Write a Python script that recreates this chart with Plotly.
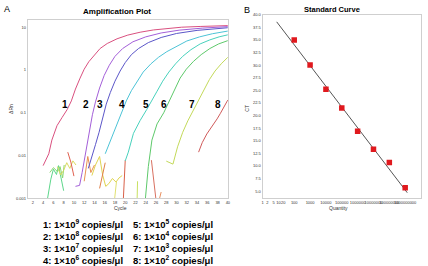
import math
import plotly.graph_objects as go

# ---------------- Panel A data: amplification curves ----------------
c1_x = [4.0, 5.1, 5.7, 6.7, 7.7, 8.7, 9.5, 10.3, 11.2, 12.0, 12.9, 14.0, 15.1, 16.5, 18.4, 20.5, 22.9, 25.5, 28.1, 31, 34.6, 37, 40]
c1_y = [0.0058, 0.011, 0.023, 0.05, 0.078, 0.12, 0.19, 0.36, 0.65, 1.05, 1.57, 2.3, 3.2, 4.2, 5.4, 6.6, 7.7, 8.7, 9.5, 10.1, 10.5, 10.8, 11.0]
c2_x = [10.3, 11.1, 11.6, 12.1, 12.6, 13.1, 13.6, 14.2, 15.0, 15.9, 16.9, 18.0, 19.5, 21.5, 24, 27, 30.5, 35, 40]
c2_y = [0.0019, 0.002, 0.004, 0.009, 0.02, 0.045, 0.09, 0.18, 0.38, 0.75, 1.3, 2.1, 3.2, 4.6, 6.0, 7.4, 8.6, 9.6, 10.4]
c3_x = [12.8, 13.5, 14.2, 14.9, 15.6, 16.3, 17.1, 18.0, 19.0, 20.0, 21.2, 22.6, 24.5, 27, 30, 34, 40]
c3_y = [0.005, 0.009, 0.018, 0.035, 0.07, 0.16, 0.3, 0.55, 0.95, 1.5, 2.3, 3.2, 4.4, 5.8, 7.2, 8.5, 9.8]
c4_x = [16.1, 17.4, 18.4, 19.4, 20.2, 21.2, 22.3, 23.5, 25, 26.5, 28.1, 30, 32, 34.5, 37, 40]
c4_y = [0.011, 0.027, 0.055, 0.11, 0.19, 0.33, 0.55, 0.9, 1.4, 2.0, 2.7, 3.6, 4.8, 6.0, 7.1, 8.2]
c5_x = [20.0, 20.6, 21.6, 22.9, 24.2, 25.2, 26.2, 27.3, 28.5, 29.8, 31.2, 32.8, 34.6, 36.5, 38.3, 40]
c5_y = [0.0075, 0.012, 0.033, 0.066, 0.12, 0.19, 0.32, 0.55, 0.9, 1.4, 2.1, 3.0, 4.1, 5.1, 6.0, 6.7]
c6_x = [23.9, 24.5, 25.2, 26.2, 27.5, 28.6, 29.6, 30.7, 31.9, 33.3, 34.8, 36.5, 38.2, 40]
c6_y = [0.0009, 0.0055, 0.023, 0.055, 0.1, 0.19, 0.36, 0.65, 1.05, 1.6, 2.3, 3.2, 4.1, 4.9]
c7_x = [28.0, 29.3, 30.2, 31.2, 32.2, 33.0, 34.2, 35.3, 36.4, 37.5, 38.7, 40]
c7_y = [0.0074, 0.0063, 0.016, 0.035, 0.065, 0.1, 0.19, 0.35, 0.6, 0.95, 1.4, 2.0]
c8_x = [34.3, 35.0, 35.9, 36.6, 37.2, 37.9, 38.5, 39.3, 40]
c8_y = [0.012, 0.02, 0.032, 0.042, 0.055, 0.072, 0.095, 0.14, 0.2]

curve_x = [c1_x, c2_x, c3_x, c4_x, c5_x, c6_x, c7_x, c8_x]
curve_y = [c1_y, c2_y, c3_y, c4_y, c5_y, c6_y, c7_y, c8_y]
curve_colors = ["#d9507f", "#a35fd8", "#5b56c8", "#4cc3d6", "#48d1bc", "#5ec96b", "#c3d95a", "#cf5a5a"]

# baseline noise segments
n_x = [
    [4.8, 5.5, 6.0, 6.6, 7.0, 7.5, 8.0],
    [5.3, 6.0, 6.8, 7.3, 7.8, 8.1],
    [6.8, 7.4, 8.0, 8.6, 9.2, 9.8, 10.4],
    [8.8, 9.4, 10.0],
    [12.0, 12.7, 13.3, 14.0],
    [13.5, 14.2, 15.0, 15.6, 16.2, 16.8, 17.5, 18.2, 18.8, 19.4],
    [15.0, 15.5, 16.1],
    [17.9, 18.3],
    [19.6, 19.8, 20.0],
    [22.3, 22.4],
    [25.1, 25.5, 26.0],
    [26.6, 27.0],
]
n_y = [
    [0.0009, 0.0028, 0.0048, 0.0036, 0.0058, 0.0028, 0.0015],
    [0.004, 0.0052, 0.0042, 0.0055, 0.003, 0.006],
    [0.0055, 0.0035, 0.0045, 0.0068, 0.005, 0.0075, 0.006],
    [0.012, 0.007, 0.0033],
    [0.0025, 0.0095, 0.004, 0.006],
    [0.0034, 0.006, 0.0095, 0.0035, 0.0019, 0.0022, 0.0029, 0.0024, 0.003, 0.0034],
    [0.0017, 0.003, 0.0068],
    [0.0009, 0.0025],
    [0.0008, 0.004, 0.0078],
    [0.0008, 0.0025],
    [0.0078, 0.003, 0.0009],
    [0.0009, 0.0014],
]
n_colors = ["#5cd68a", "#8ad870", "#dada60", "#e06050", "#e89050", "#e0d450",
            "#e08048", "#e0e070", "#d86048", "#c8e060", "#d87060", "#e89060"]

curve_labels = ["1", "2", "3", "4", "5", "6", "7", "8"]
label_cycle = [8.3, 12.4, 15.1, 19.4, 24.1, 27.6, 33.0, 38.1]
label_value = [0.16] * 8

a_xticks = list(range(2, 41, 2))
a_yticks = [0.001, 0.01, 0.1, 1, 10]
a_yticktext = ["0.001", "0.01", "0.1", "1", "10"]

# ---------------- Panel B data: standard curve ----------------
quantity = [1e2, 1e3, 1e4, 1e5, 1e6, 1e7, 1e8, 1e9]
ct = [35.0, 30.05, 25.2, 21.5, 16.9, 13.3, 10.7, 5.7]
fit_q = [7.8, 1.35e9]
fit_ct = [38.6, 4.7]
b_xticks = [1, 2, 5, 10, 20, 100, 1000, 10000, 100000, 1000000, 10000000, 100000000, 1000000000, 10000000000]
b_xticktext = ["1", "2", "5", "10", "20", "100", "1000", "10000", "100000", "1000000", "10000000",
               "100000000", "1000000000", "10000000000"]
b_yticks = [5.0, 7.5, 10.0, 12.5, 15.0, 17.5, 20.0, 22.5, 25.0, 27.5, 30.0, 32.5, 35.0, 37.5, 40.0]

legend_left = ["1: 1×10<sup>9</sup> copies/μl", "2: 1×10<sup>8</sup> copies/μl",
               "3: 1×10<sup>7</sup> copies/μl", "4: 1×10<sup>6</sup> copies/μl"]
legend_right = ["5: 1×10<sup>5</sup> copies/μl", "6: 1×10<sup>4</sup> copies/μl",
                "7: 1×10<sup>3</sup> copies/μl", "8: 1×10<sup>2</sup> copies/μl"]

W, H = 428, 266
FONT = "Liberation Sans, Arial, sans-serif"

fig = go.Figure()

for xs, ys, col in zip(n_x, n_y, n_colors):
    fig.add_trace(go.Scatter(x=xs, y=ys, mode="lines", line=dict(color=col, width=1),
                             xaxis="x", yaxis="y", showlegend=False, hoverinfo="skip"))
for xs, ys, col in zip(curve_x, curve_y, curve_colors):
    fig.add_trace(go.Scatter(x=xs, y=ys, mode="lines", line=dict(color=col, width=1),
                             xaxis="x", yaxis="y", showlegend=False))

fig.add_trace(go.Scatter(x=fit_q, y=fit_ct, mode="lines", line=dict(color="#555555", width=1),
                         xaxis="x2", yaxis="y2", showlegend=False))
fig.add_trace(go.Scatter(x=quantity, y=ct, mode="markers",
                         marker=dict(symbol="square", size=5.5, color="#e0191e"),
                         xaxis="x2", yaxis="y2", showlegend=False))


def px_x(p):
    return p / W


def px_y(p):
    return 1 - p / H


axis_common = dict(showgrid=False, zeroline=False, showline=True, linecolor="#cfcfcf",
                   linewidth=1, mirror=True, ticks="", tickangle=0,
                   tickfont=dict(size=4, color="#333333", family=FONT))

fig.update_layout(
    width=W, height=H, margin=dict(l=0, r=0, t=0, b=0),
    paper_bgcolor="white", plot_bgcolor="white",
    font=dict(family=FONT, color="black"),
    xaxis=dict(domain=[px_x(27), px_x(229)], range=[1, 40], tickvals=a_xticks,
               anchor="y", **axis_common),
    yaxis=dict(domain=[px_y(199), px_y(17)], type="log", range=[-3, 1.18],
               tickvals=a_yticks, ticktext=a_yticktext, anchor="x", **axis_common),
    xaxis2=dict(domain=[px_x(264), px_x(424)], type="log", range=[0, 10],
                tickvals=b_xticks, ticktext=b_xticktext, anchor="y2", **axis_common),
    yaxis2=dict(domain=[px_y(199), px_y(12)], range=[3.6, 40], tickvals=b_yticks,
                tickformat=".1f", anchor="x2", **axis_common),
)

ann = []


def paper_text(text, x, y, size, xanchor="center", angle=0, color="black"):
    ann.append(dict(text=text, x=px_x(x), y=px_y(y), xref="paper", yref="paper",
                    xanchor=xanchor, yanchor="middle", textangle=angle, showarrow=False,
                    font=dict(size=size, family=FONT, color=color)))


paper_text("A", 1, 6, 9, xanchor="left")
paper_text("B", 243, 7, 9, xanchor="left")
paper_text("<b>Amplification Plot</b>", 117, 8.5, 8)
paper_text("<b>Standard Curve</b>", 334, 6.5, 7.5)
paper_text("ΔRn", 10, 108, 5, angle=-90, color="#333333")
paper_text("CT", 248, 107, 5, angle=-90, color="#333333")
paper_text("Cycle", 121, 209, 5, color="#333333")
paper_text("Quantity", 341, 209, 5, color="#333333")

for t, cx, cy in zip(curve_labels, label_cycle, label_value):
    ann.append(dict(text="<b>%s</b>" % t, x=cx, y=math.log10(cy), xref="x", yref="y",
                    xanchor="center", yanchor="middle", showarrow=False,
                    font=dict(size=10, family=FONT)))

row_y = [225, 237.5, 249.5, 262]
for txt, ry in zip(legend_left, row_y):
    paper_text("<b>%s</b>" % txt, 40, ry, 9.5, xanchor="left")
for txt, ry in zip(legend_right, row_y):
    paper_text("<b>%s</b>" % txt, 131, ry, 9.5, xanchor="left")

fig.update_layout(annotations=ann)
fig.write_html("out.html")
